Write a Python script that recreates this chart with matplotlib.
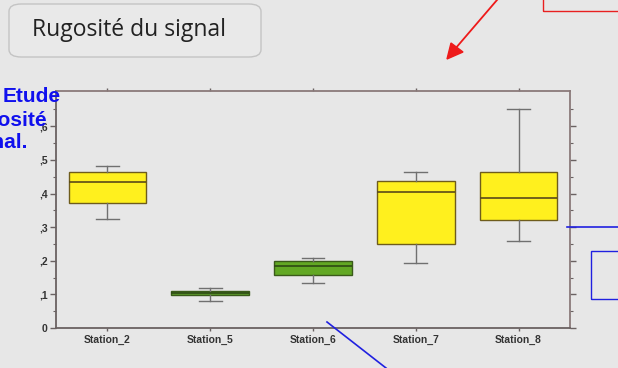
import matplotlib.pyplot as plt
import numpy as np
from matplotlib.patches import FancyBboxPatch, Rectangle
from matplotlib.ticker import FixedLocator, FuncFormatter

stations = ["Station_2", "Station_5", "Station_6", "Station_7", "Station_8"]
q1 = [0.371, 0.097, 0.158, 0.250, 0.320]
med = [0.435, 0.104, 0.185, 0.404, 0.386]
q3 = [0.464, 0.110, 0.199, 0.438, 0.465]
whislo = [0.323, 0.079, 0.134, 0.193, 0.259]
whishi = [0.483, 0.118, 0.207, 0.464, 0.651]
box_colors = ["#fff01e", "#5c9a2c", "#62a824", "#fff01e", "#fff01e"]

bg = "#e7e7e7"
fig = plt.figure(figsize=(6.18, 3.68), dpi=100)
fig.patch.set_facecolor(bg)

# slide decorations
title_box = FancyBboxPatch((9 / 618, 1 - 57 / 368), 252 / 618, 53 / 368,
                           boxstyle="round,pad=0,rounding_size=0.02",
                           transform=fig.transFigure, facecolor="#e9e9e9",
                           edgecolor="#c4c4c4", linewidth=1.0)
fig.patches.append(title_box)
fig.text(32 / 618, 1 - 30 / 368, "Rugosité du signal", fontsize=16.5,
         family="Open Sans", color="#222222", va="center", ha="left")

blue_kw = dict(fontsize=15, fontweight="bold", family="Liberation Sans",
               color="#1010ee", ha="right", va="center", zorder=10)
fig.text(61 / 618, 1 - 96 / 368, "Etude", **blue_kw)
fig.text(47 / 618, 1 - 120 / 368, "Rugosité", **blue_kw)
fig.text(27 / 618, 1 - 143 / 368, "du signal.", **blue_kw)

fig.patches.append(Rectangle((543 / 618, 1 - 11 / 368), 80 / 618, 20 / 368,
                             transform=fig.transFigure, fill=False,
                             edgecolor="#e82020", linewidth=1.0))
fig.patches.append(Rectangle((591 / 618, 1 - 299 / 368), 40 / 618, 48 / 368,
                             transform=fig.transFigure, fill=False,
                             edgecolor="#2020e0", linewidth=1.0))
fig.add_artist(plt.Line2D([567 / 618, 1.0], [1 - 227 / 368, 1 - 227 / 368],
                          transform=fig.transFigure, color="#2020e0", lw=1.2))
fig.add_artist(plt.Line2D([327 / 618, 386 / 618], [1 - 322 / 368, 0.0],
                          transform=fig.transFigure, color="#2020e0", lw=1.2))
fig.add_artist(plt.Line2D([497 / 618, 455 / 618], [1.0, 1 - 49 / 368],
                          transform=fig.transFigure, color="#ee1a1a", lw=1.3))
fig.patches.append(plt.Polygon([[447 / 618, 1 - 59 / 368], [451 / 618, 1 - 43 / 368],
                                [463 / 618, 1 - 52 / 368]], closed=True,
                               transform=fig.transFigure, color="#ee1a1a"))

# box plot
ax = fig.add_axes([56 / 618, 40 / 368, 514 / 618, 237 / 368])
ax.set_facecolor(bg)

stats = []
for i, name in enumerate(stations):
    stats.append(dict(label=name, q1=q1[i], med=med[i], q3=q3[i],
                      whislo=whislo[i], whishi=whishi[i], fliers=[]))

bp = ax.bxp(stats, widths=0.755, patch_artist=True, showfliers=False,
            boxprops=dict(edgecolor="#6e5c1c", linewidth=1.0),
            medianprops=dict(color="#5a4a18", linewidth=1.2),
            whiskerprops=dict(color="#707070", linewidth=1.0),
            capprops=dict(color="#707070", linewidth=1.0),
            capwidths=0.22)
for patch, c in zip(bp["boxes"], box_colors):
    patch.set_facecolor(c)
for k in (1, 2):
    bp["boxes"][k].set_edgecolor("#3a5a1a")
    bp["medians"][k].set_color("#2e4a14")

ax.set_xlim(0.5, 5.5)
ax.set_ylim(0, 0.705)

major = np.arange(0, 0.61, 0.1)
minor = np.arange(0.05, 0.70, 0.1)
ax.yaxis.set_major_locator(FixedLocator(major))
ax.yaxis.set_minor_locator(FixedLocator(minor))
ax.yaxis.set_major_formatter(FuncFormatter(
    lambda v, p: "0" if abs(v) < 1e-9 else "," + str(int(round(v * 10)))))

for s in ("left", "bottom"):
    ax.spines[s].set_color("#6a6262")
    ax.spines[s].set_linewidth(1.3)
for s in ("top", "right"):
    ax.spines[s].set_color("#8a7a7a")
    ax.spines[s].set_linewidth(1.3)

ax.tick_params(axis="y", which="major", direction="out", length=4, width=1,
               color="#6a6262", labelsize=7.5, labelcolor="#333333",
               right=True, pad=2)
ax.tick_params(axis="y", which="minor", direction="out", length=2, width=0.8,
               color="#6a6262", right=True)
ax.tick_params(axis="x", direction="out", length=2, width=1, color="#6a6262",
               labelsize=7.5, labelcolor="#333333", top=True, pad=3)
for lab in ax.get_yticklabels() + ax.get_xticklabels():
    lab.set_family("Liberation Sans")
    lab.set_fontweight("bold")

fig.savefig("out.png", dpi=100, facecolor=bg)
